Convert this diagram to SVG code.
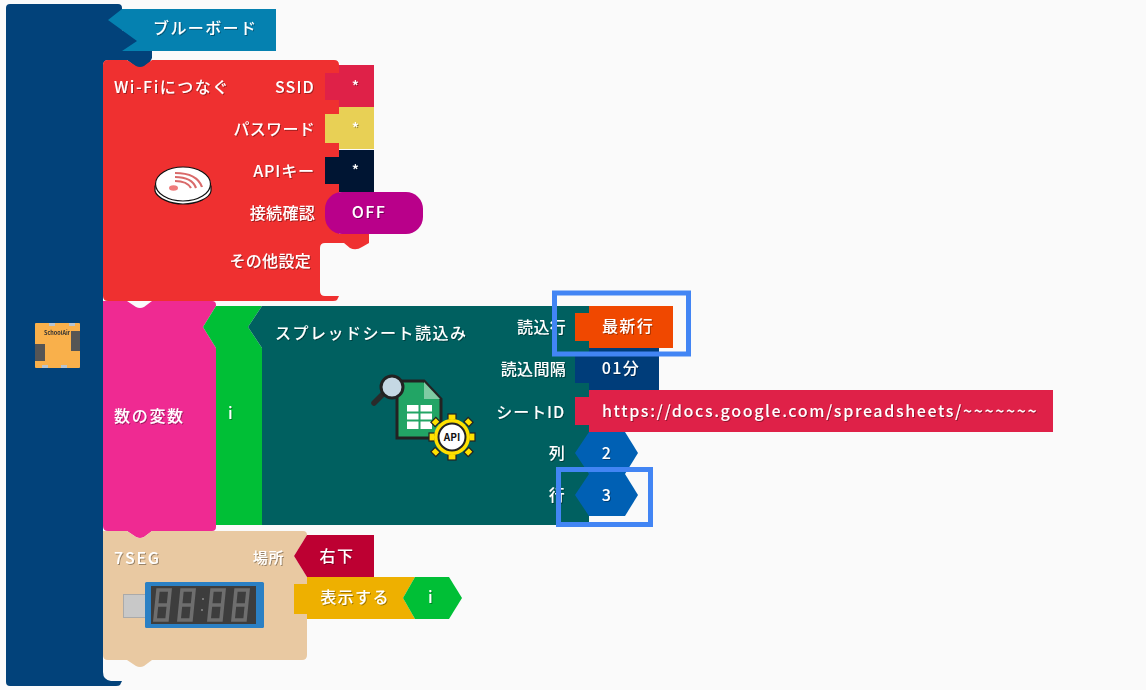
<svg xmlns="http://www.w3.org/2000/svg" width="1146" height="690" viewBox="0 0 1146 690">
<defs>
<filter id="ts" x="-10%" y="-20%" width="120%" height="150%"><feDropShadow dx="1" dy="1" stdDeviation="0.6" flood-color="#000" flood-opacity="0.35"/></filter>
<filter id="soft" x="-5%" y="-5%" width="110%" height="110%"><feGaussianBlur stdDeviation="0.35"/></filter>
</defs>
<style>
text{font-family:"Noto Sans CJK JP","Noto Sans",sans-serif;font-size:16px;font-weight:500;fill:#fff;letter-spacing:1.4px;filter:url(#ts)}
.r{text-anchor:end}.m{text-anchor:middle}
.t{letter-spacing:.3px}
.hl{fill:none;stroke:#4285f4;stroke-width:5}
.seg{fill:none;stroke:#6e6e6e;stroke-width:3.6}
</style>
<rect width="1146" height="690" fill="#fafafa"/>
<g id="spine">
<path d="M10 4H118Q122 4 122 8L122 30L152 44V58L150 62L144 67H136L127 60H108Q103 60 103 66V672Q103 680 111 681H122L120 685Q119 686 116 686H10Q6 686 6 682V8Q6 4 10 4Z" fill="#02427a"/>
<g id="board-icon" filter="url(#soft)">
<rect x="35" y="323" width="45" height="45" rx="1" fill="#f9b04c"/>
<rect x="71" y="331" width="9" height="20" fill="#555"/>
<rect x="35" y="344" width="10" height="17" fill="#555"/>
<rect x="49" y="323" width="6" height="3" fill="#b8c4d0"/><rect x="69" y="323" width="6" height="3" fill="#b8c4d0"/>
<rect x="42" y="365" width="6" height="3" fill="#b8c4d0"/><rect x="61" y="365" width="6" height="3" fill="#b8c4d0"/>
<text x="57" y="335" class="m" style="font-size:5.500px;fill:#333;letter-spacing:0;font-weight:700;filter:none">SchoolAir</text>
</g>
</g>
<g id="banner">
<path d="M108 20L122 9H276V51H122L137 41Z" fill="#0581b0"/>
<text x="153" y="34">ブルーボード</text>
</g>
<g id="wifi">
<path d="M108 60H127L136 66Q140 68 144 66L152 60H334Q339 60 339 65V234H369V243L362 247Q356 251 350 248L344 243H325Q320 243 320 248V291Q320 296 325 296H339L337 300Q336 301 333 301H108Q103 301 103 296V65Q103 60 108 60Z" fill="#ef3030"/>
<text x="114" y="93" style="letter-spacing:1.5px">Wi-Fiにつなぐ</text>
<text x="315" y="93" class="r" style="letter-spacing:1.2px">SSID</text>
<text x="315" y="135" class="r t">パスワード</text>
<text x="315" y="177" class="r" style="letter-spacing:.9px">APIキー</text>
<text x="315" y="219" class="r t">接続確認</text>
<text x="311" y="267" class="r t">その他設定</text>
<g id="wifi-icon">
<path d="M155 186V191C157 198 170 204 183 204C197 204 210 198 211 191V186Z" fill="#fff" stroke="#111" stroke-width="1.2"/>
<ellipse cx="183" cy="184" rx="27.500" ry="17" fill="#fff" stroke="#111" stroke-width="1.2"/>
<ellipse cx="173.500" cy="188" rx="4.500" ry="2.800" fill="#ef7d7d"/>
<g fill="none" stroke="#d96a6a" stroke-width="2.200">
<path d="M175 181Q187 181 191 188"/><path d="M175 177Q192 177 196 188"/><path d="M175 173Q197 173 202 187"/>
</g>
</g>
</g>
<g id="ssid"><path d="M339 65H374V107H339V100H325V73H339Z" fill="#df2148"/><text x="356" y="92" class="m" style="font-size:15px">*</text></g>
<g id="password"><path d="M339 107H374V149H339V143H325V114H339Z" fill="#e8d055"/><text x="356" y="134" class="m" style="font-size:15px">*</text></g>
<g id="apikey"><path d="M339 150H374V192H339V184H325V157H339Z" fill="#001533"/><text x="356" y="176" class="m" style="font-size:15px">*</text></g>
<g id="off"><rect x="325" y="192" width="98" height="42" rx="17" fill="#b9008a"/><text x="369" y="218" class="m">OFF</text></g>
<g id="var">
<path d="M103 301H127L136 307Q140 309 144 307L152 301H212Q216 301 216 305V306L203 327L216 348V527Q216 531 212 531H152L144 537Q140 539 136 537L127 531H108Q103 531 103 526Z" fill="#ef2a92"/>
<text x="114" y="422" style="letter-spacing:1.7px">数の変数</text>
</g>
<g id="var-name">
<path d="M216 348L203 327L216 306H262L248 327L262 348V525H216Z" fill="#00bf36"/>
<text x="231" y="419" class="m">i</text>
</g>
<g id="sheet">
<path d="M262 306H589V525H262V348L248 327Z" fill="#006060"/>
<text x="275" y="339" style="letter-spacing:1.5px">スプレッドシート読込み</text>
<text x="566" y="333" class="r t">読込行</text>
<text x="566" y="375" class="r t">読込間隔</text>
<text x="565" y="418" class="r" style="letter-spacing:.9px">シートID</text>
<text x="565" y="459" class="r t">列</text>
<text x="565" y="501" class="r t">行</text>
<g id="sheet-icon">
<path d="M397 381H424L441 399V438H397Z" fill="#22a565" stroke="#222" stroke-width="3"/>
<path d="M424 382V399H440Z" fill="#7fcba3"/>
<rect x="407" y="405" width="25" height="24" fill="#fff"/>
<path d="M407 412.500H432M407 420.500H432M419.500 405V429" stroke="#22a565" stroke-width="2"/>
<path d="M374 403L386 391" stroke="#2a2a2a" stroke-width="5.500" stroke-linecap="round"/>
<circle cx="392" cy="387" r="11" fill="#c5d8e4" stroke="#222" stroke-width="3"/>
<g fill="#ffe100" stroke="#222" stroke-width="1.200">
<rect x="448" y="414" width="8" height="6"/><rect x="448" y="454" width="8" height="6"/><rect x="429" y="433" width="6" height="8"/><rect x="469" y="433" width="6" height="8"/>
<rect x="432" y="419" width="7" height="6" transform="rotate(-45 435.500 422)"/><rect x="465" y="419" width="7" height="6" transform="rotate(45 468.500 422)"/><rect x="432" y="449" width="7" height="6" transform="rotate(45 435.500 452)"/><rect x="465" y="449" width="7" height="6" transform="rotate(-45 468.500 452)"/>
</g>
<circle cx="452" cy="437" r="18" fill="#ffe100"/>
<circle cx="452" cy="437" r="13.500" fill="#fff" stroke="#222" stroke-width="2"/>
<text x="452" y="441" class="m" style="font-size:10px;font-weight:700;fill:#111;letter-spacing:0;filter:none">API</text>
</g>
</g>
<g id="read-row"><path d="M589 306H673V348H589V341H575V313H589Z" fill="#f04800"/><text x="628" y="332" class="m">最新行</text></g>
<g id="interval"><path d="M589 348H659V390H589V383H575V353H589Z" fill="#003d7a"/><text x="621" y="374" class="m">01分</text></g>
<g id="sheet-id"><path d="M589 390H1053V432H589V425H575V397H589Z" fill="#df2148"/><text x="602" y="417" textLength="436" lengthAdjust="spacing">https://docs.google.com/spreadsheets/~~~~~~~</text></g>
<g id="col"><path d="M575 453L589 432H625L638 453L625 474H589Z" fill="#0060b4"/><text x="607" y="459" class="m">2</text></g>
<g id="row"><path d="M575 495L589 474H625L638 495L625 516H589Z" fill="#0060b4"/><text x="607" y="501" class="m">3</text></g>
<g id="seg7">
<path d="M103 531H127L136 537Q140 539 144 537L152 531H303Q307 531 307 535L294 556L307 577V655Q307 660 302 660H152L144 666Q140 668 136 666L127 660H108Q103 660 103 655Z" fill="#e9c9a2"/>
<text x="114" y="564" style="letter-spacing:1.800px">7SEG</text>
<text x="284" y="563" class="r" style="font-size:15px;letter-spacing:.6px">場所</text>
<g id="seg7-icon">
<rect x="123.500" y="594.500" width="22" height="23" fill="#c8c8c8" stroke="#aaa"/>
<rect x="145" y="582" width="119" height="46" rx="1.500" fill="#2b80c4"/>
<rect x="151" y="586" width="105" height="38" fill="#3d3d3d"/>
<path class="seg" d="M158 590H170L167 620H155ZM156.500 605H168.500"/>
<path class="seg" d="M182 590H194L191 620H179ZM180.500 605H192.500"/>
<path class="seg" d="M212 590H224L221 620H209ZM210.500 605H222.500"/>
<path class="seg" d="M236 590H248L245 620H233ZM234.500 605H246.500"/>
<rect x="202" y="598" width="2" height="2" fill="#777"/><rect x="201" y="609" width="2" height="2" fill="#777"/>
</g>
</g>
<g id="place"><path d="M294 556L307 535H374V577H307Z" fill="#bd0032"/><text x="337" y="562" class="m">右下</text></g>
<g id="display"><path d="M307 577H415L403 598L415 619H307V614H294V584H307Z" fill="#eeb000"/><text x="355" y="603" class="m">表示する</text></g>
<g id="display-i"><path d="M403 598L415 577H449L462 598L449 619H415Z" fill="#00bf36"/><text x="431" y="603" class="m">i</text></g>
<g id="highlights">
<rect class="hl" x="554.500" y="293" width="134" height="61"/>
<rect class="hl" x="558.500" y="469.500" width="92" height="55"/>
</g>
<g id="connectors"/>
</svg>
